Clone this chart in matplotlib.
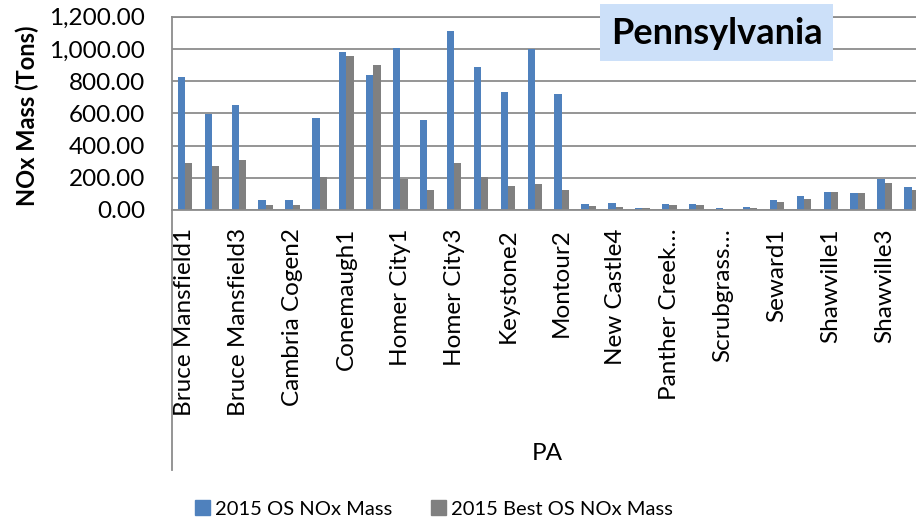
import matplotlib
matplotlib.use('Agg')
import matplotlib.pyplot as plt
import numpy as np
from matplotlib.lines import Line2D
from matplotlib.patches import Rectangle, Patch
from matplotlib.ticker import FuncFormatter

categories = [
    "Bruce Mansfield1", "Bruce Mansfield2", "Bruce Mansfield3",
    "Cambria Cogen1", "Cambria Cogen2", "Cheswick1",
    "Conemaugh1", "Conemaugh2", "Homer City1", "Homer City2", "Homer City3",
    "Keystone1", "Keystone2", "Montour1", "Montour2",
    "New Castle3", "New Castle4", "New Castle5",
    "Panther Creek Energy Facility1", "Panther Creek Energy Facility2",
    "Scrubgrass Generating Plant1", "Scrubgrass Generating Plant2",
    "Seward1", "Seward2", "Shawville1", "Shawville2", "Shawville3", "Shawville4",
]
os_nox = [827, 598, 652, 60, 60, 569, 981, 835, 1006, 558, 1112, 887, 735, 998,
          719, 35, 44, 15, 37, 37, 12, 19, 65, 90, 112, 104, 190, 142]
best_os_nox = [294, 275, 312, 29, 31, 206, 954, 898, 190, 127, 292, 202, 150, 160,
               123, 23, 19, 15, 31, 33, 5, 12, 52, 67, 112, 104, 165, 125]
# labels as displayed on the axis (every other category, truncated by the source)
tick_labels = ["Bruce Mansfield1", "Bruce Mansfield3", "Cambria Cogen2", "Conemaugh1",
               "Homer City1", "Homer City3", "Keystone2", "Montour2", "New Castle4",
               "Panther Creek…", "Scrubgrass…", "Seward1", "Shawville1", "Shawville3"]
series_names = ["2015 OS NOx Mass", "2015 Best OS NOx Mass"]
title = "Pennsylvania"

FONT = 'Lato'
plt.rcParams['font.family'] = [FONT, 'DejaVu Sans']

W, H = 916, 521
fig = plt.figure(figsize=(W / 100, H / 100), dpi=100)


def fx(px):
    return px / W


def fy(py):
    return 1 - py / H


left, right, top, bottom = 171.5, 925, 16.7, 210
ax = fig.add_axes([fx(left), fy(bottom), fx(right) - fx(left), fy(top) - fy(bottom)])

blue, gray = '#4f81bd', '#808080'
grid_c = '#8c8c8c'
x = np.arange(len(categories))
w = 0.27
ax.bar(x - w / 2, os_nox, w, color=blue, zorder=2)
ax.bar(x + w / 2, best_os_nox, w, color=gray, zorder=2)
ax.set_xlim(-0.5, len(categories) - 0.5)
ax.set_ylim(0, 1200)
ax.set_yticks(np.arange(0, 1201, 200))
ax.yaxis.set_major_formatter(FuncFormatter(lambda v, p: f'{v:,.2f}'))
ax.grid(axis='y', color=grid_c, lw=1.3, zorder=0)
ax.set_axisbelow(True)
ax.spines['right'].set_visible(False)
for s in ['left', 'bottom', 'top']:
    ax.spines[s].set_color(grid_c)
    ax.spines[s].set_linewidth(1.3)
ax.set_xticks(x[::2])
ax.set_xticklabels(tick_labels, rotation=90)
ax.tick_params(axis='y', length=0, labelsize=17.5, pad=19)
ax.tick_params(axis='x', length=0, labelsize=17.5, pad=13)

fig.add_artist(Line2D([fx(left)] * 2, [fy(bottom), fy(470)], color=grid_c, lw=1.3))
fig.text(fx(547), fy(453), 'PA', ha='center', va='center', fontsize=17.5)
fig.text(fx(27), fy(116), 'NOx Mass (Tons)', rotation=90, fontweight='bold',
         fontsize=17, ha='center', va='center')

handles = [Patch(color=blue), Patch(color=gray)]
fig.legend(handles, series_names, loc='center', bbox_to_anchor=(fx(434), fy(509)),
           ncol=2, frameon=False, fontsize=14.5, handlelength=0.75, handleheight=0.75,
           handletextpad=0.25, columnspacing=1.9)

fig.add_artist(Rectangle((fx(600), fy(61)), fx(833) - fx(600), fy(4) - fy(61),
                         transform=fig.transFigure, facecolor='#cce0f9', edgecolor='none',
                         zorder=5))
fig.text(fx(716.5), fy(33), title, ha='center', va='center', fontsize=26,
         fontweight='bold', zorder=6)

fig.savefig('out.png', dpi=100)
